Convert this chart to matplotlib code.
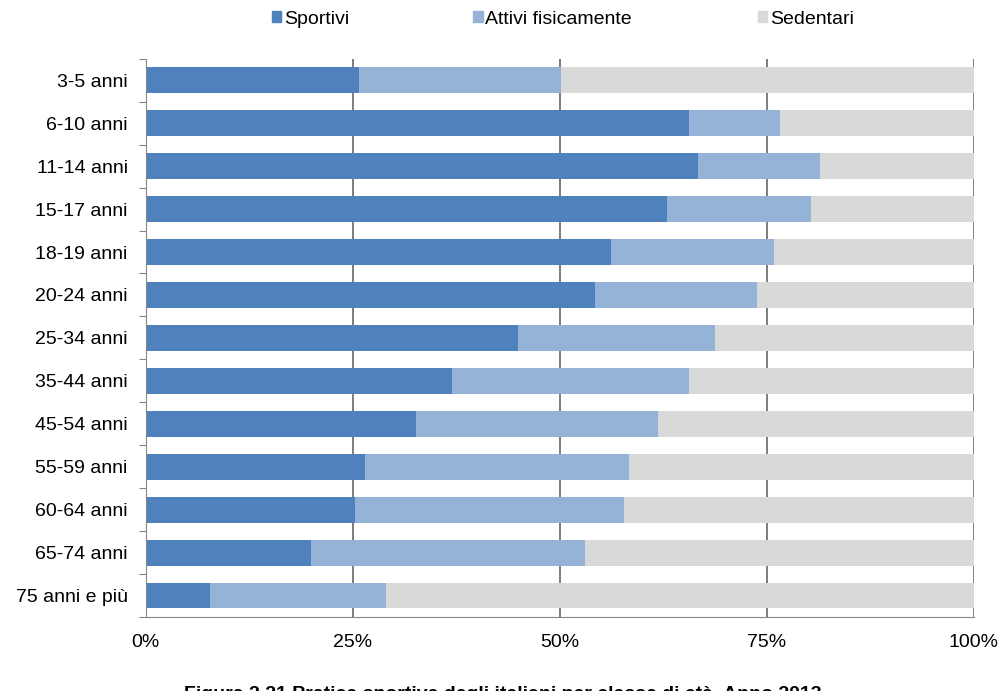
import matplotlib.pyplot as plt
from matplotlib.patches import Patch

plt.rcParams['font.family'] = ['Liberation Sans', 'DejaVu Sans']

classi = ['3-5 anni', '6-10 anni', '11-14 anni', '15-17 anni', '18-19 anni',
          '20-24 anni', '25-34 anni', '35-44 anni', '45-54 anni', '55-59 anni',
          '60-64 anni', '65-74 anni', '75 anni e più']
sportivi = [25.7, 65.6, 66.7, 63.0, 56.2, 54.3, 44.9, 37.0, 32.6, 26.5, 25.3, 19.9, 7.7]
attivi = [24.4, 11.0, 14.7, 17.3, 19.7, 19.5, 23.9, 28.6, 29.2, 31.9, 32.4, 33.1, 21.3]
sedentari = [100 - s - a for s, a in zip(sportivi, attivi)]

colori = ['#4F81BD', '#95B3D7', '#D9D9D9']
serie = ['Sportivi', 'Attivi fisicamente', 'Sedentari']

fig = plt.figure(figsize=(10.06, 6.91), dpi=100)
ax = fig.add_axes([0.145, 0.107, 0.823, 0.808])

y = list(range(len(classi)))
left = [0] * len(classi)
for vals, col in zip([sportivi, attivi, sedentari], colori):
    ax.barh(y, vals, left=left, height=0.6, color=col, zorder=2)
    left = [l + v for l, v in zip(left, vals)]

ax.set_xlim(0, 100)
ax.set_ylim(len(classi) - 0.5, -0.5)
ax.set_xticks([0, 25, 50, 75, 100])
ax.set_xticklabels(['0%', '25%', '50%', '75%', '100%'], fontsize=14)
ax.tick_params(axis='x', length=0, pad=12)

ax.set_yticks([i - 0.5 for i in range(len(classi) + 1)])
ax.set_yticklabels([])
ax.set_yticks(y, minor=True)
ax.set_yticklabels(classi, minor=True, fontsize=14)
ax.tick_params(axis='y', which='major', length=5, color='#888888', direction='out')
ax.tick_params(axis='y', which='minor', length=0, pad=13)

ax.grid(axis='x', color='#666666', linewidth=1.2, zorder=1)
for s in ['top', 'right']:
    ax.spines[s].set_visible(False)
for s in ['left', 'bottom']:
    ax.spines[s].set_color('#888888')

# legend entries placed separately, Excel style
pos = [0.270, 0.470, 0.753]
for p, nome, col in zip(pos, serie, colori):
    fig.legend(handles=[Patch(color=col)], labels=[nome], loc='center left',
               bbox_to_anchor=(p, 0.972), frameon=False, fontsize=14,
               handlelength=0.5, handleheight=0.5, handletextpad=0.15,
               borderpad=0, borderaxespad=0)

# caption sits at the bottom edge, mostly cut off
fig.text(0.5, 1 - 686 / 691, 'Figura 2.21 Pratica sportiva degli italiani per classe di età. Anno 2013',
         ha='center', va='top', fontsize=14, fontweight='bold')

fig.savefig('out.png', dpi=100)
